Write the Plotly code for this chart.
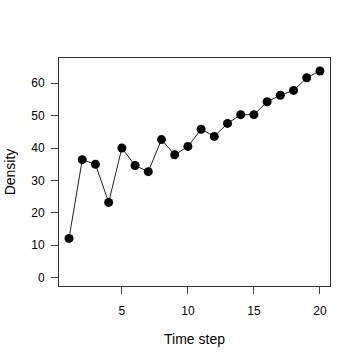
import plotly.graph_objects as go

time_step = list(range(1, 21))
density = [12.1, 36.4, 35.0, 23.2, 40.0, 34.6, 32.7, 42.6, 37.9, 40.5,
           45.8, 43.6, 47.6, 50.3, 50.3, 54.3, 56.3, 57.8, 61.7, 63.8]
x_ticks = [5, 10, 15, 20]
y_ticks = [0, 10, 20, 30, 40, 50, 60]

fig = go.Figure(go.Scatter(
    x=time_step, y=density, mode="lines+markers",
    line=dict(color="#222222", width=1),
    marker=dict(color="black", size=9),
))

fig.update_layout(
    width=360, height=360,
    margin=dict(l=59, r=30, t=58, b=74),
    paper_bgcolor="white", plot_bgcolor="white",
    font=dict(family="Liberation Sans, Arial, sans-serif", size=12, color="black"),
    showlegend=False,
)
fig.update_xaxes(
    range=[0.24, 20.76], tickvals=x_ticks, ticks="outside", ticklen=7,
    tickcolor="#444", showline=True, mirror=True, linecolor="#333", linewidth=1,
    showgrid=False, zeroline=False, ticklabelstandoff=7, automargin=False,
    title=dict(text="Time step", standoff=16),
)
fig.update_yaxes(
    range=[-2.6, 67.8], tickvals=y_ticks, ticks="outside", ticklen=7,
    tickcolor="#444", showline=True, mirror=True, linecolor="#333", linewidth=1,
    showgrid=False, zeroline=False, ticklabelstandoff=4, automargin=False,
    title=dict(text="Density", standoff=12),
)

fig.write_html("out.html", config={"displayModeBar": False},
               post_script="document.body.style.margin='0';")
